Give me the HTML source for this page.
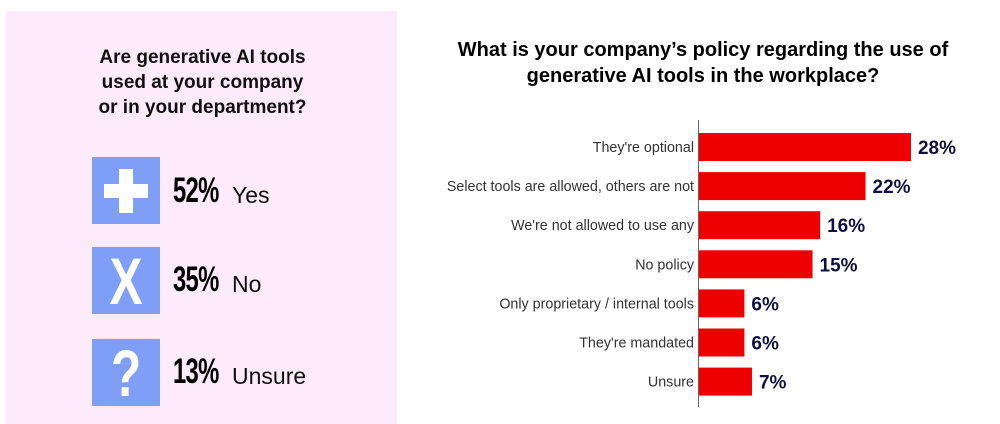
<!DOCTYPE html>
<html><head><meta charset="utf-8"><style>
body{margin:0;width:1000px;height:424px;background:#fff;font-family:"Liberation Sans",sans-serif;position:relative;overflow:hidden}
.panel{position:absolute;left:6px;top:11px;width:391px;height:413px;background:#fdeafb}
.ttl{position:absolute;font-weight:bold;color:#111;text-align:center;font-size:19px;line-height:25px}
.icon{position:absolute;left:92px;width:68px;height:67px;background:#7f9ef7;color:#fff;font-weight:bold;text-align:center;overflow:hidden}
.icon span{display:inline-block;transform:scaleX(0.75);font-size:66px;line-height:69px}
.pct{position:absolute;left:173px;font-weight:bold;font-size:35px;color:#000;letter-spacing:-1px;display:inline-block;transform:scaleX(0.68);transform-origin:left center}
.lab{position:absolute;left:232px;font-size:23px;color:#111}
</style></head><body>
<div class="panel"></div>
<div class="ttl" style="left:40px;width:325px;top:45px">Are generative AI tools<br>used at your company<br>or in your department?</div>
<div class="icon" style="top:157px"><div style="position:absolute;left:12px;top:27px;width:44px;height:14px;background:#fff"></div><div style="position:absolute;left:27px;top:12px;width:14px;height:44px;background:#fff"></div></div>
<div class="icon" style="top:247px"><span>X</span></div>
<div class="icon" style="top:339px"><span>?</span></div>
<div class="pct" style="top:171px">52%</div>
<div class="lab" style="top:182px">Yes</div>
<div class="pct" style="top:260px">35%</div>
<div class="lab" style="top:271px">No</div>
<div class="pct" style="top:352px">13%</div>
<div class="lab" style="top:363px">Unsure</div>
<div class="ttl" style="left:430px;width:546px;top:37px;font-size:20px;line-height:26px;color:#000">What is your company’s policy regarding the use of<br>generative AI tools in the workplace?</div>
<svg id="chart" width="1000" height="424" style="position:absolute;left:0;top:0"></svg>
<script>
const categories=["They're optional","Select tools are allowed, others are not","We're not allowed to use any","No policy","Only proprietary / internal tools","They're mandated","Unsure"];
const values=[28,22,16,15,6,6,7];
const NS="http://www.w3.org/2000/svg";
const svg=document.getElementById('chart');
const x0=699,scale=7.57,y0=133,pitch=39.1,bh=28;
const xs=v=>x0+v*scale, ys=i=>y0+i*pitch;
function mk(t,a){const e=document.createElementNS(NS,t);for(const k in a)e.setAttribute(k,a[k]);svg.appendChild(e);return e;}
categories.forEach((c,i)=>{
 const r=mk('rect',{x:x0,y:ys(i),width:xs(values[i])-x0,height:bh,fill:'#ee0000'});
 
 
 const l=mk('text',{x:x0-5,y:ys(i)+bh/2+5,'text-anchor':'end','font-size':'14.3','fill':'#333','font-family':'Liberation Sans, sans-serif'});
 l.textContent=c;
 
 
 const v=mk('text',{x:xs(values[i])+7,y:ys(i)+bh/2+7,'font-size':'19','font-weight':'bold','fill':'#101040','font-family':'Liberation Sans, sans-serif'});
 v.textContent=values[i]+'%';
 
 
});
const ax=mk('line',{x1:x0-0.5,x2:x0-0.5,y1:120,y2:407,stroke:'#666','stroke-width':1});


</script>
</body></html>
